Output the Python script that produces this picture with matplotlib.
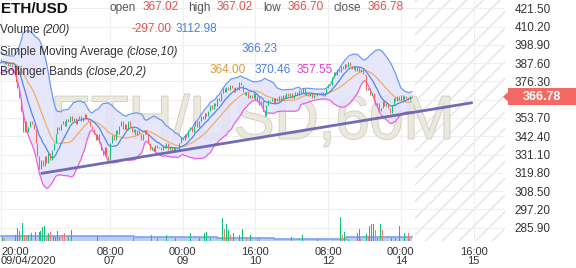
import matplotlib
matplotlib.use("Agg")
import matplotlib.pyplot as plt
import matplotlib.patheffects as pe
import matplotlib.transforms as mtransforms
from matplotlib.patches import Rectangle, Polygon
import numpy as np
import pandas as pd

plt.rcParams["font.family"] = ["Liberation Sans", "DejaVu Sans"]

W, H = 576, 268

# hourly closes 04/09 01:00-19:00, only there so the bands have history at the left edge
warmup_close = [395, 393, 390, 384, 382, 386, 389, 391, 388, 385,
                383, 387, 390, 392, 389, 387, 385, 388, 390]

# hourly closes from 04/09 20:00 (hour 0) to 14/09 ~06:00
close = [
    388, 389, 387, 388, 386, 387, 385, 386,
    376, 372, 366, 358, 345, 352, 345, 348, 352, 350, 347,
    338, 330, 322, 328, 324, 330, 326, 332, 328, 334,
    338, 344, 348, 346, 350, 352, 349, 353, 351, 355,
    352, 354, 350, 353, 355, 352, 354, 356, 353, 352,
    349, 347, 344, 340, 344, 338, 334, 331, 336,
    330, 328, 338, 343, 340, 346, 344, 349, 352, 347,
    350, 346, 352, 348, 345, 347, 343, 346, 344,
    340, 344, 346, 344, 338, 334, 336, 333, 337,
    335, 336, 334, 337, 335, 338, 334, 336, 333,
    336, 334, 333, 338, 342, 340, 344, 342, 346,
    348, 345, 349, 352, 348, 352, 355, 353, 357,
    355, 358, 362, 359, 363, 361, 366, 364, 369,
    372, 370, 373, 371, 374, 372, 370, 373, 371,
    376, 374, 370, 368, 370, 366, 368, 366, 369,
    365, 367, 362, 364, 358, 355, 362, 365, 364,
    366, 363, 366, 364, 367, 365, 368, 366, 369,
    367, 369, 366, 368, 370, 368, 371, 369, 372,
    368, 370, 367, 369, 366, 368, 367, 369, 368,
    370, 367, 369, 372, 375, 374, 379, 382, 380,
    384, 382, 386, 384, 387, 385, 388, 386, 384,
    386, 383, 385, 382, 384, 381, 380, 371, 372,
    368, 369, 365, 362, 363, 358, 360, 364, 361,
    363, 360, 357, 362, 366, 364, 367, 365, 368,
    365, 367, 366, 365, 367, 366.78,
]

# hourly volume (only the visible bars), 1 = up candle colour, 0 = down
vol_hours = [1, 2, 8, 9, 10, 12, 13, 14, 15, 17, 19, 21, 22, 23, 24, 25, 26, 27, 29, 30,
             31, 32, 34, 35, 37, 39, 53, 73, 83, 86, 91, 96, 104, 109, 112, 113, 115, 122,
             123, 124, 125, 126, 128, 131, 133, 135, 137, 141, 142, 160, 166, 174, 187,
             188, 189, 191, 196, 197, 198, 201, 202, 203, 204, 205, 206, 207, 209, 210,
             215, 217, 219, 222, 224, 225]
vol_size = [3100, 2300, 4700, 9900, 7800, 14000, 4700, 3100, 4700, 6200, 7000, 7000, 7800,
            10900, 11700, 3100, 6200, 7000, 3900, 3100, 7800, 3100, 4700, 6200, 3100, 8600,
            3900, 2300, 4700, 2300, 4700, 2300, 6200, 2300, 6200, 7000, 2300, 17900, 9400,
            13300, 8600, 4700, 6200, 4700, 9400, 3100, 4700, 2300, 2300, 3100, 4700, 1600,
            18700, 4700, 7000, 1600, 6200, 9400, 1600, 5500, 3900, 11700, 13300, 13300, 8600,
            2300, 13300, 8600, 2300, 2300, 11700, 6200, 6200, 2300]
vol_up = [1, 0, 1, 1, 1, 1, 0, 0, 1, 1, 1, 1, 1, 1, 1, 0, 1, 0, 1, 1,
          1, 1, 0, 0, 1, 1, 1, 1, 1, 1, 1, 1, 1, 1, 1, 1, 1, 1,
          0, 1, 1, 0, 1, 1, 1, 0, 1, 0, 0, 1, 1, 1, 1,
          0, 1, 1, 1, 1, 0, 1, 0, 1, 1, 1, 0, 1, 1, 0,
          1, 1, 1, 1, 0, 0]

# volume moving average (200), as steps
vma_hours = [0, 73, 119, 150, 190, 226]
vma_vals = [3900, 2900, 2100, 1600, 3113, 3113]

# drawn trend line (hour, price)
trend_hours = [22.4, 259]
trend_prices = [319.5, 363.1]

tick_hours = [0, 60, 100, 140, 180, 220, 260]
tick_labels = ["20:00\n09/04/2020", "08:00\n07", "00:00\n09", "16:00\n10",
               "08:00\n12", "00:00\n14", "16:00\n15"]
price_ticks = [285.90, 297.20, 308.50, 319.80, 331.10, 342.40, 353.70, 365.00,
               376.30, 387.60, 398.90, 410.20, 421.50]

GREEN = "#12c17a"
RED = "#f5645d"
C_UP = "#6b9bf2"
C_SMA = "#4f86ee"
C_MID = "#f2ad6a"
C_LOW = "#f25ce4"

fig = plt.figure(figsize=(W / 100, H / 100), dpi=100)
ax = fig.add_axes([0, (H - 241) / H, 505 / W, 241 / H])
ax.set_xlim(-0.55, 277.3)
ax.set_ylim(277.7, 426.6)
for s in ax.spines.values():
    s.set_visible(False)
ax.grid(color="#efefef", linewidth=0.8, zorder=0)
ax.set_axisbelow(True)

# future area
ax.axvspan(227.8, 277.3, facecolor="none", edgecolor="#e4e4e4", hatch="//",
           linewidth=0, zorder=0.5)

ax.text(0.5, 0.425, "ETH/USD,60M", transform=ax.transAxes, ha="center", va="baseline",
        fontsize=44, color="#ebe8de", zorder=1,
        path_effects=[pe.withStroke(linewidth=1.3, foreground="#d2cec1")])

# indicators
n_warm = len(warmup_close)
series = pd.Series(warmup_close + close, dtype=float)
hx = np.arange(-n_warm, len(close))
mid = series.rolling(20).mean()
sd = series.rolling(20).std(ddof=0)
upper = mid + 2 * sd
lower = mid - 2 * sd
sma10 = series.rolling(10).mean()

ax.fill_between(hx, lower, upper, color="#e3e3fb", alpha=0.85, linewidth=0, zorder=1.5)
ax.plot(hx, upper, color=C_UP, lw=0.9, zorder=3)
ax.plot(hx, lower, color=C_LOW, lw=0.9, zorder=3)
ax.plot(hx, mid, color=C_MID, lw=0.9, zorder=3)
ax.plot(hx, sma10, color=C_SMA, lw=0.9, zorder=3)

# candles
c = np.array(close, dtype=float)
o = np.r_[warmup_close[-1], c[:-1]]
h = np.arange(len(c))
up = c >= o
ax.vlines(h[up], o[up], c[up], color=GREEN, lw=0.75, zorder=4)
ax.vlines(h[~up], o[~up], c[~up], color=RED, lw=0.75, zorder=4)

ax.plot(trend_hours, trend_prices, color="#6a64b0", lw=2.0, alpha=0.95,
        solid_capstyle="round", zorder=5)

# volume
vax = ax.twinx()
vax.set_ylim(0, 241 * 780)
vax.set_axis_off()
vu = np.array(vol_up, dtype=bool)
vh = np.array(vol_hours)
vs = np.array(vol_size)
vax.fill_between(vma_hours, 0, vma_vals, step="post", color="#b9cdf6", linewidth=0, zorder=1)
vax.step(vma_hours, vma_vals, where="post", color="#7ea4ee", lw=1.2, zorder=1.5)
vax.bar(vh[vu], vs[vu], width=0.55, color=GREEN, zorder=2)
vax.bar(vh[~vu], vs[~vu], width=0.55, color="#f77a72", zorder=2)

ax.set_xticks(tick_hours)
ax.set_xticklabels(tick_labels)
ax.tick_params(axis="x", length=0, pad=4, labelsize=8, labelcolor="#333333")
for i, t in enumerate(ax.get_xticklabels()):
    t.set_linespacing(0.95)
    if i == 0:
        t.set_ha("left")
ax.yaxis.tick_right()
ax.set_yticks(price_ticks)
last = close[-1]
# the tick hidden under the last-price tag is left blank
ax.set_yticklabels(["" if abs(v - last) < 5 else f"{v:.2f}" for v in price_ticks])
ax.tick_params(axis="y", length=0, pad=7, labelsize=8.5, labelcolor="#333333")

# last price tag
tr = mtransforms.blended_transform_factory(fig.transFigure, ax.transData)
fig.add_artist(Rectangle((508 / W, last - 5.3), 70 / W, 10.6, transform=tr,
                         facecolor="#f26a63", edgecolor="none", zorder=10))
fig.add_artist(Polygon([(503 / W, last), (508.5 / W, last + 3.2), (508.5 / W, last - 3.2)],
                       closed=True, transform=tr, facecolor="#f26a63", edgecolor="none",
                       zorder=10))
fig.text(542 / W, last, f"{last:.2f}", transform=tr, ha="center", va="center",
         color="white", fontsize=9, fontweight="bold", zorder=11)


def ftext(x, y, s, **kw):
    kw.setdefault("fontsize", 8.5)
    kw.setdefault("va", "center")
    return fig.text(x / W, 1 - y / H, s, **kw)


renderer = fig.canvas.get_renderer()


def legend_line(y, plain, italic):
    t = ftext(0, y, plain, color="#333333")
    bb = t.get_window_extent(renderer=renderer)
    ftext(bb.x1, y, italic, color="#333333", style="italic")


ftext(1, 9, "ETH/USD", fontsize=11, fontweight="bold", color="#111111")
ftext(110, 8, "open", color="#555555")
ftext(143, 7.5, "367.02", color="#e0524b")
ftext(188, 8, "high", color="#555555")
ftext(217, 7.5, "367.02", color="#e0524b")
ftext(263, 8, "low", color="#555555")
ftext(288, 7.5, "366.70", color="#e0524b")
ftext(333, 8, "close", color="#555555")
ftext(368, 7.5, "366.78", color="#e0524b")

legend_line(30, "Volume ", "(200)")
ftext(131, 29, "-297.00", color="#e0524b")
ftext(176, 29, "3112.98", color="#4a7fe0")

legend_line(52, "Simple Moving Average ", "(close,10)")
ftext(242, 49, "366.23", color="#4a7fe0")

legend_line(72, "Bollinger Bands ", "(close,20,2)")
ftext(210, 70, "364.00", color="#d99a3c")
ftext(255, 70, "370.46", color="#4a7fe0")
ftext(297, 70, "357.55", color="#dc40cf")

fig.savefig("out.png", dpi=100)
